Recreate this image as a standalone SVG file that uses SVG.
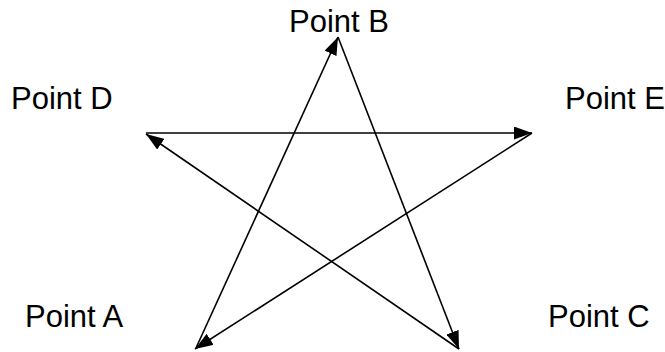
<svg xmlns="http://www.w3.org/2000/svg" width="665" height="352" viewBox="0 0 665 352">
<style>
text{font-family:"Liberation Sans",Arial,sans-serif;font-size:31px;fill:#000}
.c{stroke:#000;stroke-width:1.6;fill:none}
</style>
<defs>
<marker id="ah" viewBox="0 0 18 13" refX="18" refY="6.5" markerWidth="18" markerHeight="13" markerUnits="userSpaceOnUse" orient="auto">
<path d="M0,0 L18,6.5 L0,13 z" fill="#000"/>
</marker>
</defs>
<rect width="665" height="352" fill="#fff"/>
<g id="connectors">
<line class="c" x1="196" y1="348" x2="338" y2="37" marker-end="url(#ah)"/>
<line class="c" x1="338" y1="37" x2="459" y2="349" marker-end="url(#ah)"/>
<line class="c" x1="459" y1="349" x2="146" y2="134" marker-end="url(#ah)"/>
<line class="c" x1="146" y1="133" x2="532" y2="133" marker-end="url(#ah)"/>
<line class="c" x1="532" y1="133" x2="195" y2="349" marker-end="url(#ah)"/>
</g>
<g id="pointB"><text x="339" y="32" text-anchor="middle">Point B</text></g>
<g id="pointD"><text x="11" y="109">Point D</text></g>
<g id="pointE"><text x="665" y="109" text-anchor="end">Point E</text></g>
<g id="pointA"><text x="25" y="327">Point A</text></g>
<g id="pointC"><text x="548" y="327">Point C</text></g>
</svg>
